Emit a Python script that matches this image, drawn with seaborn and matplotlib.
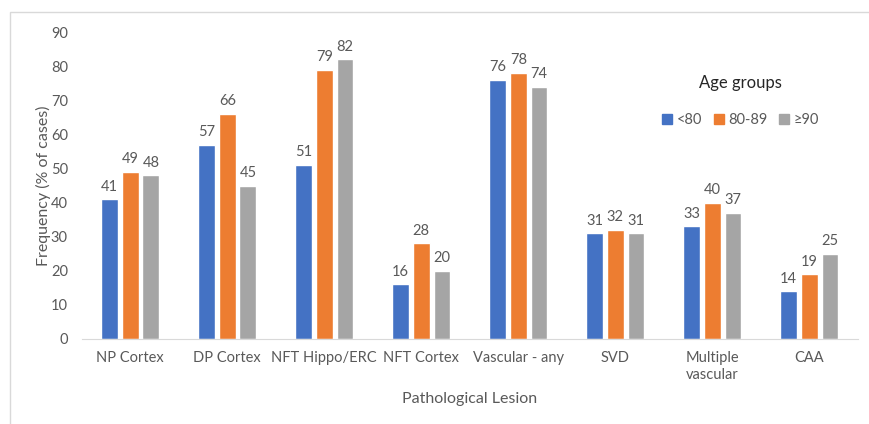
import pandas as pd
import matplotlib.pyplot as plt
import matplotlib.patches as mpatches
import seaborn as sns

lesions = ["NP Cortex", "DP Cortex", "NFT Hippo/ERC", "NFT Cortex",
           "Vascular - any", "SVD", "Multiple\nvascular", "CAA"]
under_80 = [41, 57, 51, 16, 76, 31, 33, 14]
age_80_89 = [49, 66, 79, 28, 78, 32, 40, 19]
over_90 = [48, 45, 82, 20, 74, 31, 37, 25]
groups = ["<80", "80-89", "≥90"]
colors = ["#4472C4", "#ED7D31", "#A5A5A5"]

df = pd.DataFrame({"lesion": lesions, groups[0]: under_80,
                   groups[1]: age_80_89, groups[2]: over_90})
df = df.melt(id_vars="lesion", var_name="group", value_name="freq")

sns.set_style("white")
plt.rcParams["font.family"] = ["Lato", "DejaVu Sans"]
text_col = "#595959"

fig = plt.figure(figsize=(8.7, 4.24), dpi=100)
ax = fig.add_axes([0.094, 0.2005, 0.892, 0.724])

sns.barplot(data=df, x="lesion", y="freq", hue="group", hue_order=groups,
            palette=colors, width=0.64, gap=0.18, saturation=1, ax=ax,
            legend=False, order=lesions)

for cont in ax.containers:
    ax.bar_label(cont, padding=4, fontsize=10.5, color=text_col)

ax.set_ylim(0, 90)
ax.set_yticks(range(0, 91, 10))
ax.set_xlim(-0.5, len(lesions) - 0.5)
ax.tick_params(axis="both", colors=text_col, labelsize=10.5, length=0)
ax.tick_params(axis="x", pad=9)
ax.tick_params(axis="y", pad=10)
for s in ["top", "right", "left"]:
    ax.spines[s].set_visible(False)
ax.spines["bottom"].set_color("#D9D9D9")
ax.set_xlabel("Pathological Lesion", fontsize=11.5, color=text_col, va="center")
ax.xaxis.set_label_coords(0.5, -0.197)
ax.set_ylabel("Frequency (% of cases)", fontsize=11.5, color=text_col, labelpad=0)

handles = [mpatches.Patch(color=c, label=g) for c, g in zip(colors, groups)]
leg = ax.legend(handles=handles, title="Age groups", ncol=3, frameon=False,
                loc="center", bbox_to_anchor=(0.849, 0.775), fontsize=10.5,
                title_fontsize=12, handlelength=0.7, handleheight=0.7,
                handletextpad=0.3, columnspacing=0.8)
for t in leg.get_texts():
    t.set_color(text_col)
leg.get_title().set_color("#262626")
leg._legend_box.sep = 16

fig.patches.append(mpatches.Rectangle((0.0115, -0.01), 1.0, 0.982,
                                      transform=fig.transFigure, fill=False,
                                      edgecolor="#D9D9D9", linewidth=1))

fig.savefig("out.png", dpi=100)
